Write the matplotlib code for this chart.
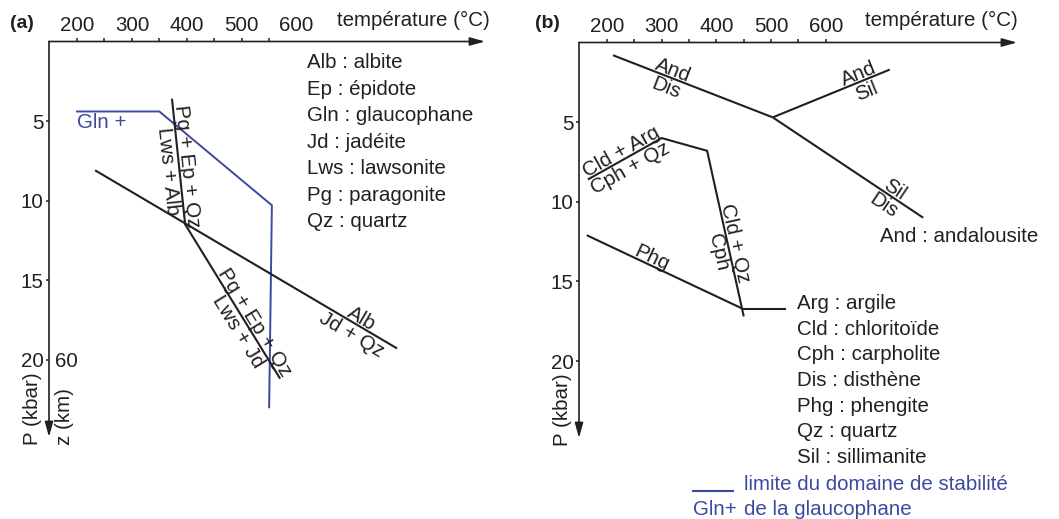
import math
import matplotlib
matplotlib.use("Agg")
import matplotlib.pyplot as plt
from matplotlib.lines import Line2D

plt.rcParams['font.family'] = ['Liberation Sans', 'DejaVu Sans']

W, H = 1059, 519
INK = '#231f20'
BLUE = '#3b4a9e'
FS = 14.8

# ---------------- shared axis values ----------------
temp_labels = [200, 300, 400, 500, 600]
p_ticks = [5, 10, 15, 20]
temp_ticks_a = [200, 250, 300, 350, 400, 450, 500, 550]
temp_ticks_b = [200, 250, 300, 350, 400, 450, 500, 550, 600]

# ---------------- panel (a): boundaries (T in °C, P in kbar) ----------------
gln_T = [200, 350, 555, 550]
gln_P = [4.4, 4.4, 10.3, 23.0]

pg_T = [373, 397, 570]
pg_P = [3.6, 11.5, 21.2]

alb_T = [233, 783]
alb_P = [8.1, 19.3]

legend_a = ["Alb : albite", "Ep : épidote", "Gln : glaucophane",
            "Jd : jadéite", "Lws : lawsonite", "Pg : paragonite",
            "Qz : quartz"]

# ---------------- panel (b): boundaries ----------------
and_dis_T = [211, 503]
and_dis_P = [0.8, 4.7]
and_sil_T = [503, 717]
and_sil_P = [4.7, 1.7]
sil_dis_T = [503, 778]
sil_dis_P = [4.7, 11.0]

cld_T = [165, 300, 383, 450]
cld_P = [8.6, 6.0, 6.8, 17.2]
phg_T = [163, 447]
phg_P = [12.1, 16.7]
arg_T = [447, 527]
arg_P = [16.7, 16.7]

legend_b = ["Arg : argile", "Cld : chloritoïde", "Cph : carpholite",
            "Dis : disthène", "Phg : phengite", "Qz : quartz",
            "Sil : sillimanite"]

fig = plt.figure(figsize=(W / 100, H / 100), dpi=100)


def fx(x):
    return x / W


def fy(y):
    return 1 - y / H


def make_panel(left, right, top, bottom, xlim, ylim, minor_ticks):
    ax = fig.add_axes([fx(left), fy(bottom), (right - left) / W, (bottom - top) / H])
    ax.set_xlim(*xlim)
    ax.set_ylim(*ylim)
    for s in ax.spines.values():
        s.set_visible(False)
    ax.patch.set_visible(False)
    ax.xaxis.tick_top()
    ax.xaxis.remove_overlapping_locs = False
    ax.set_xticks(temp_labels)
    ax.set_xticks(minor_ticks, minor=True)
    ax.tick_params(axis='x', which='major', length=0, pad=4.5, labelsize=FS,
                   labelcolor=INK, top=True, bottom=False,
                   labeltop=True, labelbottom=False)
    ax.tick_params(axis='x', which='minor', length=2.9, width=1.1, color=INK,
                   direction='out', top=True, bottom=False)
    ax.set_yticks(p_ticks)
    ax.tick_params(axis='y', which='major', length=2.2, width=1.1, color=INK,
                   pad=1.8, labelsize=FS, labelcolor=INK)
    ax.yaxis.set_minor_locator(matplotlib.ticker.NullLocator())
    arrow = dict(arrowstyle='-|>,head_length=0.9,head_width=0.25', lw=1.2,
                 color=INK, shrinkA=0, shrinkB=0, mutation_scale=10)
    ax.annotate('', xy=(1, 1), xytext=(0, 1), xycoords='axes fraction',
                arrowprops=arrow)
    ax.annotate('', xy=(0, 0), xytext=(0, 1), xycoords='axes fraction',
                arrowprops=arrow)
    return ax


def line_label(ax, T, P, frac, text, side, gap=3.0, **kw):
    """Write text along the segment (T[0],P[0])-(T[1],P[1])."""
    p0 = ax.transData.transform((T[0], P[0]))
    p1 = ax.transData.transform((T[1], P[1]))
    dx, dy = p1[0] - p0[0], p1[1] - p0[1]
    ang = math.degrees(math.atan2(dy, dx))
    if ang > 90:
        ang -= 180
    elif ang < -90:
        ang += 180
    nx, ny = -math.sin(math.radians(ang)), math.cos(math.radians(ang))
    off = gap * side * 0.72
    xm = T[0] + frac * (T[1] - T[0])
    ym = P[0] + frac * (P[1] - P[0])
    ax.annotate(text, xy=(xm, ym), xytext=(nx * off, ny * off),
                textcoords='offset points', rotation=ang,
                rotation_mode='anchor', ha='center',
                va='baseline' if side > 0 else 'top',
                fontsize=FS, color=kw.get('color', INK))


# ======================= panel (a) =======================
axa = make_panel(49, 485, 41.5, 437, (149.0, 943.2), (24.87, 0), temp_ticks_a)
line_kw = dict(color=INK, lw=1.5, solid_capstyle='butt', solid_joinstyle='miter')
axa.plot(gln_T, gln_P, color=BLUE, lw=1.4, solid_joinstyle='miter')
axa.plot(pg_T, pg_P, **line_kw)
axa.plot(alb_T, alb_P, **line_kw)

axa.text(200, 5.45, "Gln +", color=BLUE, fontsize=FS, ha='left', va='baseline')
axa.text(160, 20, "60", color=INK, fontsize=FS, ha='left', va='center_baseline')

line_label(axa, pg_T[:2], pg_P[:2], 0.54, "Pg + Ep + Qz", +1, gap=2)
line_label(axa, pg_T[:2], pg_P[:2], 0.57, "Lws + Alb", -1, gap=2)
line_label(axa, pg_T[1:], pg_P[1:], 0.66, "Pg + Ep + Qz", +1, gap=2)
line_label(axa, pg_T[1:], pg_P[1:], 0.66, "Lws + Jd", -1, gap=2)
line_label(axa, alb_T, alb_P, 0.87, "Alb", +1, gap=2)
line_label(axa, alb_T, alb_P, 0.87, "Jd + Qz", -1, gap=2)

fig.text(fx(10), fy(28), "(a)", fontsize=14, fontweight='bold', color=INK, va='baseline')
fig.text(fx(337), fy(26), "température (°C)", fontsize=FS, color=INK, va='baseline')
fig.text(fx(33), fy(445), "P (kbar)", fontsize=FS, color=INK, rotation=90,
         ha='center', va='bottom')
fig.text(fx(65), fy(445), "z (km)", fontsize=FS, color=INK, rotation=90,
         ha='center', va='bottom')
for i, s in enumerate(legend_a):
    fig.text(fx(307), fy(68.3 + 26.5 * i), s, fontsize=FS, color=INK, va='baseline')

# ======================= panel (b) =======================
axb = make_panel(579, 1017, 42.5, 438, (148.8, 949.5), (24.83, 0), temp_ticks_b)
for T, P in [(and_dis_T, and_dis_P), (and_sil_T, and_sil_P), (sil_dis_T, sil_dis_P),
             (cld_T, cld_P), (phg_T, phg_P), (arg_T, arg_P)]:
    axb.plot(T, P, **line_kw)

line_label(axb, and_dis_T, and_dis_P, 0.36, "And", +1, gap=2)
line_label(axb, and_dis_T, and_dis_P, 0.36, "Dis", -1, gap=2)
line_label(axb, and_sil_T, and_sil_P, 0.76, "And", +1, gap=2)
line_label(axb, and_sil_T, and_sil_P, 0.76, "Sil", -1, gap=2)
line_label(axb, sil_dis_T, sil_dis_P, 0.78, "Sil", +1, gap=2)
line_label(axb, sil_dis_T, sil_dis_P, 0.78, "Dis", -1, gap=2)
line_label(axb, cld_T[:2], cld_P[:2], 0.5, "Cld + Arg", +1, gap=2)
line_label(axb, cld_T[:2], cld_P[:2], 0.5, "Cph + Qz", -1, gap=2)
line_label(axb, cld_T[2:], cld_P[2:], 0.57, "Cld + Qz", +1, gap=2)
line_label(axb, cld_T[2:], cld_P[2:], 0.60, "Cph", -1, gap=2)
line_label(axb, phg_T, phg_P, 0.40, "Phg", +1, gap=2)

fig.text(fx(535), fy(28), "(b)", fontsize=14, fontweight='bold', color=INK, va='baseline')
fig.text(fx(865), fy(26), "température (°C)", fontsize=FS, color=INK, va='baseline')
fig.text(fx(563), fy(446), "P (kbar)", fontsize=FS, color=INK, rotation=90,
         ha='center', va='bottom')
fig.text(fx(880), fy(241.7), "And : andalousite", fontsize=FS, color=INK, va='baseline')
for i, s in enumerate(legend_b):
    fig.text(fx(797), fy(309 + 25.67 * i), s, fontsize=FS, color=INK, va='baseline')

# glaucophane stability key
fig.add_artist(Line2D([fx(693), fx(733)], [fy(491), fy(491)], color=BLUE, lw=1.5))
fig.text(fx(744), fy(490), "limite du domaine de stabilité", fontsize=FS,
         color=BLUE, va='baseline')
fig.text(fx(693), fy(515), "Gln+", fontsize=FS, color=BLUE, va='baseline')
fig.text(fx(744), fy(515), "de la glaucophane", fontsize=FS, color=BLUE, va='baseline')

fig.savefig("out.png", dpi=100)
